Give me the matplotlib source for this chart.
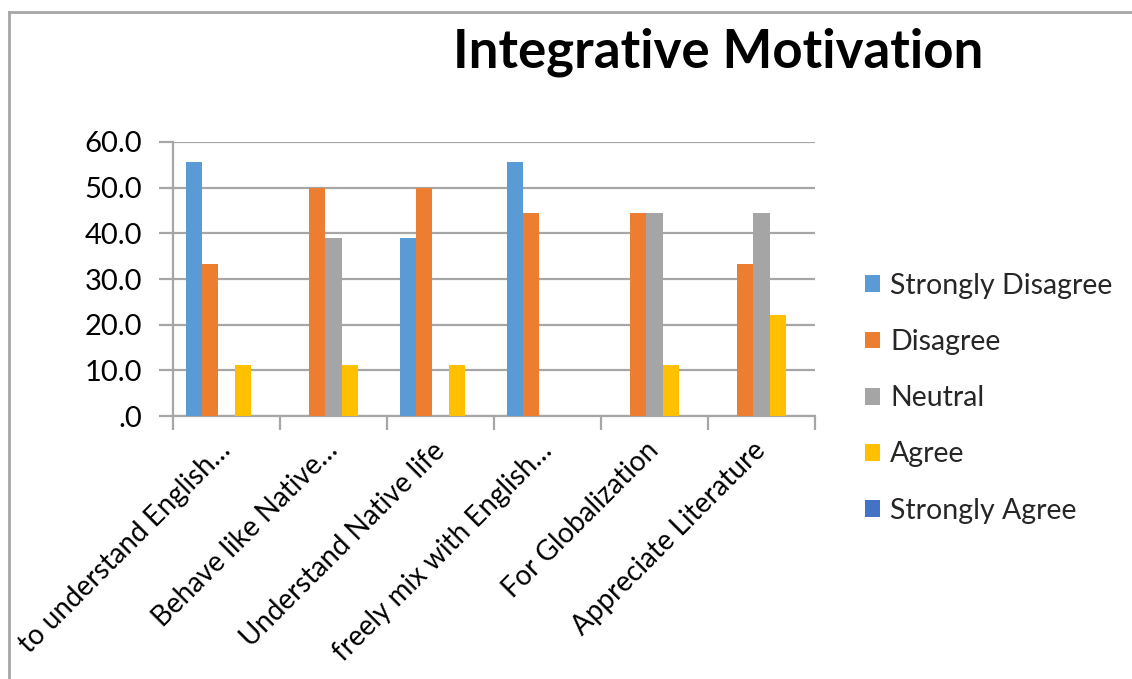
import matplotlib
matplotlib.use("Agg")
import matplotlib.pyplot as plt
from matplotlib.lines import Line2D
from matplotlib.patches import Patch
import numpy as np

plt.rcParams.update({
    "font.family": ["Lato", "DejaVu Sans"],
    "font.size": 17,
    "text.color": "#262626",
})

# ── Data (% of respondents) ──────────────────────────────────────────────────
categories = [
    "to understand English…",
    "Behave like Native…",
    "Understand Native life",
    "freely mix with English…",
    "For Globalization",
    "Appreciate Literature",
]
series_names = ["Strongly Disagree", "Disagree", "Neutral", "Agree", "Strongly Agree"]
strongly_disagree = [55.6, 0.0, 38.9, 55.6, 0.0, 0.0]
disagree          = [33.3, 50.0, 50.0, 44.4, 44.4, 33.3]
neutral           = [0.0, 38.9, 0.0, 0.0, 44.4, 44.4]
agree             = [11.1, 11.1, 11.1, 0.0, 11.1, 22.2]
strongly_agree    = [0.0, 0.0, 0.0, 0.0, 0.0, 0.0]
series_values = [strongly_disagree, disagree, neutral, agree, strongly_agree]
series_colors = ["#5B9BD5", "#ED7D31", "#A5A5A5", "#FFC000", "#4472C4"]

GRID = "#a6a6a6"

fig = plt.figure(figsize=(11.32, 6.79), dpi=100)
ax = fig.add_axes([0.1528, 0.3873, 0.5672, 0.4036])

x = np.arange(len(categories)) + 0.5
bar_w = 0.152
for k, (vals, col) in enumerate(zip(series_values, series_colors)):
    offs = (k - 2) * bar_w
    ax.bar(x + offs, vals, width=bar_w, color=col, edgecolor="none", zorder=3)

ax.set_xlim(0, len(categories))
ax.set_ylim(0, 60)
ax.set_yticks(np.arange(0, 61, 10))
ax.set_yticklabels([".0" if v == 0 else f"{v:.1f}" for v in range(0, 61, 10)],
                   fontsize=21)
ax.yaxis.grid(True, color=GRID, linewidth=1.6, zorder=0)
ax.tick_params(axis="y", length=10, width=1.6, color=GRID, pad=12)

ax.set_xticks(x)
ax.set_xticklabels(categories, rotation=45, ha="right", va="center",
                   rotation_mode="anchor", fontsize=20)
ax.set_xticks(np.arange(len(categories) + 1), minor=True)
ax.tick_params(axis="x", which="major", length=0, pad=22)
ax.tick_params(axis="x", which="minor", length=10, width=1.6, color=GRID)

for side in ["top", "right"]:
    ax.spines[side].set_visible(False)
for side in ["left", "bottom"]:
    ax.spines[side].set_color(GRID)
    ax.spines[side].set_linewidth(1.6)

fig.text(0.634, 0.923, "Integrative Motivation", ha="center", va="center",
         fontsize=38, fontweight="bold", color="black")

handles = [Patch(facecolor=c, edgecolor="none") for c in series_colors]
fig.legend(handles, series_names, loc="upper left",
           bbox_to_anchor=(0.764, 0.598), frameon=False, fontsize=20.5,
           borderpad=0, borderaxespad=0,
           handlelength=0.53, handleheight=0.53, handletextpad=0.35,
           labelspacing=1.06)

# outer chart border
fig.add_artist(Line2D([0.008, 1.0], [0.982, 0.982], transform=fig.transFigure,
                      color=GRID, linewidth=2))
fig.add_artist(Line2D([0.008, 0.008], [0.0, 0.982], transform=fig.transFigure,
                      color=GRID, linewidth=2))

fig.savefig("out.png", dpi=100, facecolor="white")
